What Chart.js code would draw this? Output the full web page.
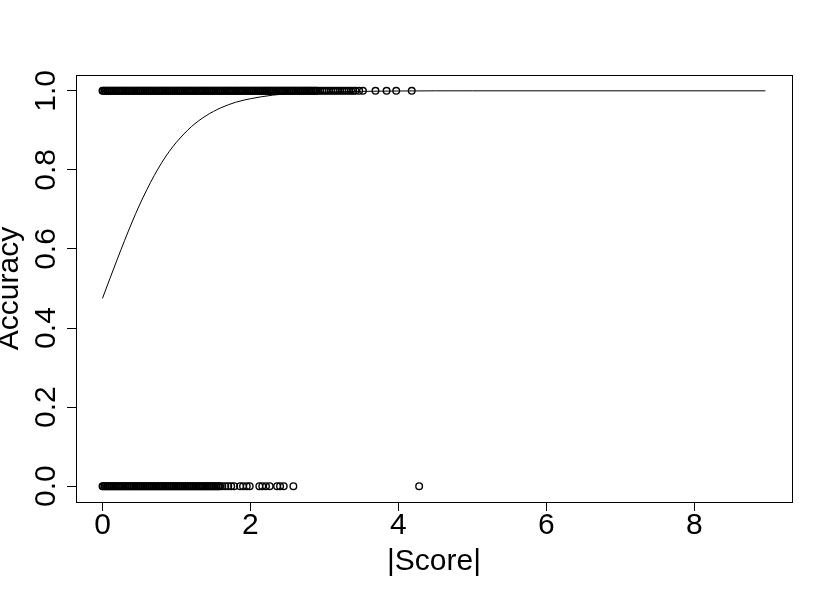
<!DOCTYPE html>
<html>
<head>
<meta charset="utf-8">
<script src="https://cdn.jsdelivr.net/npm/chart.js@4.4.1/dist/chart.umd.min.js"></script>
<style>
  body { margin: 0; background: #fff; }
  #wrap { width: 830px; height: 597px; }
</style>
</head>
<body>
<div id="wrap"><canvas id="grafico" width="830" height="597"></canvas></div>
<script>
// eixos
const xTicks = [0, 2, 4, 6, 8];
const yTicks = [0, 0.2, 0.4, 0.6, 0.8, 1.0];
const xTitulo = '|Score|';
const yTitulo = 'Accuracy';

// observacoes com Accuracy = 1 (|Score|)
const acertosX = [
  0.00, 0.01, 0.03, 0.04, 0.06, 0.07, 0.09, 0.10, 0.12, 0.13, 0.15, 0.16, 0.18, 0.19, 0.21, 0.22,
  0.24, 0.25, 0.27, 0.28, 0.30, 0.31, 0.33, 0.34, 0.36, 0.37, 0.39, 0.40, 0.42, 0.43, 0.45, 0.46,
  0.48, 0.49, 0.51, 0.52, 0.54, 0.55, 0.57, 0.58, 0.60, 0.61, 0.63, 0.64, 0.66, 0.67, 0.69, 0.70,
  0.72, 0.73, 0.75, 0.76, 0.78, 0.79, 0.81, 0.82, 0.84, 0.85, 0.87, 0.88, 0.90, 0.91, 0.93, 0.94,
  0.96, 0.97, 0.99, 1.00, 1.02, 1.03, 1.05, 1.06, 1.08, 1.09, 1.11, 1.12, 1.14, 1.15, 1.17, 1.18,
  1.20, 1.21, 1.23, 1.24, 1.26, 1.27, 1.29, 1.30, 1.32, 1.33, 1.35, 1.36, 1.38, 1.39, 1.41, 1.42,
  1.44, 1.45, 1.47, 1.48, 1.50, 1.51, 1.53, 1.54, 1.56, 1.57, 1.59, 1.60, 1.62, 1.63, 1.65, 1.66,
  1.68, 1.69, 1.71, 1.72, 1.74, 1.75, 1.77, 1.78, 1.80, 1.81, 1.83, 1.84, 1.86, 1.87, 1.89, 1.90,
  1.92, 1.93, 1.95, 1.96, 1.98, 1.99, 2.01, 2.02, 2.04, 2.05, 2.07, 2.08, 2.10, 2.11, 2.13, 2.14,
  2.16, 2.17, 2.19, 2.20, 2.22, 2.23, 2.25, 2.26, 2.28, 2.29, 2.31, 2.32, 2.34, 2.35, 2.37, 2.38,
  2.40, 2.41, 2.43, 2.44, 2.46, 2.47, 2.49, 2.50, 2.52, 2.53, 2.55, 2.56, 2.58, 2.59, 2.61, 2.62,
  2.64, 2.65, 2.67, 2.68, 2.70, 2.71, 2.73, 2.74, 2.76, 2.77, 2.79, 2.80, 2.82, 2.83, 2.85, 2.86,
  2.88, 2.89, 2.91,
  2.94, 2.97, 3.00, 3.03, 3.06, 3.09, 3.12, 3.15, 3.18, 3.21, 3.24, 3.27, 3.30, 3.33, 3.36, 3.39,
  3.42, 3.47, 3.52, 3.69, 3.84, 3.97, 4.18
];

// observacoes com Accuracy = 0
const errosX = [
  0.00, 0.01, 0.03, 0.04, 0.06, 0.07, 0.09, 0.10, 0.12, 0.13, 0.15, 0.16, 0.18, 0.19, 0.21, 0.22,
  0.24, 0.25, 0.27, 0.28, 0.30, 0.31, 0.33, 0.34, 0.36, 0.37, 0.39, 0.40, 0.42, 0.43, 0.45, 0.46,
  0.48, 0.49, 0.51, 0.52, 0.54, 0.55, 0.57, 0.58, 0.60, 0.61, 0.63, 0.64, 0.66, 0.67, 0.69, 0.70,
  0.72, 0.73, 0.75, 0.76, 0.78, 0.79, 0.81, 0.82, 0.84, 0.85, 0.87, 0.88, 0.90, 0.91, 0.93, 0.94,
  0.96, 0.97, 0.99, 1.00, 1.02, 1.03, 1.05, 1.06, 1.08, 1.09, 1.11, 1.12, 1.14, 1.15, 1.17, 1.18,
  1.20, 1.21, 1.23, 1.24, 1.26, 1.27, 1.29, 1.30, 1.32, 1.33, 1.35, 1.36, 1.38, 1.39, 1.41, 1.42,
  1.44, 1.45, 1.47, 1.48, 1.50, 1.51, 1.53, 1.54, 1.56, 1.57, 1.59,
  1.62, 1.66, 1.70, 1.74, 1.78, 1.86, 1.90, 1.95, 1.99, 2.12, 2.16, 2.21, 2.26, 2.36, 2.40, 2.45,
  2.58, 4.28
];

// curva ajustada
const curvaX = [0, 0.1, 0.2, 0.3, 0.4, 0.5, 0.6, 0.7, 0.8, 0.9, 1.0, 1.2, 1.4, 1.6, 1.8, 2.0, 2.3, 2.6, 3.0, 4.0, 5.0, 8.96];
const curvaY = [0.475, 0.525, 0.574, 0.622, 0.668, 0.711, 0.750, 0.786, 0.818, 0.846, 0.870, 0.909, 0.937, 0.957, 0.971, 0.980, 0.989, 0.994, 0.997, 0.9995, 1.0, 1.0];

const fonte = '30px "Liberation Sans", Arial, Helvetica, sans-serif';

const caixaTextos = {
  id: 'caixaTextos',
  afterDraw(chart) {
    const ctx = chart.ctx;
    const a = chart.chartArea;
    const x = chart.scales.x;
    const y = chart.scales.y;
    ctx.save();
    ctx.strokeStyle = '#000';
    ctx.lineWidth = 1;
    ctx.strokeRect(Math.round(a.left) + 0.5, Math.round(a.top) + 0.5, Math.round(a.right - a.left), Math.round(a.bottom - a.top));

    ctx.fillStyle = '#000';
    ctx.font = fonte;
    ctx.textAlign = 'center';
    ctx.textBaseline = 'alphabetic';

    x.ticks.forEach(t => {
      ctx.fillText(String(t.value), x.getPixelForValue(t.value), a.bottom + 32);
    });
    ctx.fillText(xTitulo, (a.left + a.right) / 2, a.bottom + 68);

    y.ticks.forEach(t => {
      ctx.save();
      ctx.translate(a.left - 21, y.getPixelForValue(t.value));
      ctx.rotate(-Math.PI / 2);
      ctx.fillText(t.value.toFixed(1), 0, 0);
      ctx.restore();
    });

    ctx.save();
    ctx.translate(a.left - 58, (a.top + a.bottom) / 2);
    ctx.rotate(-Math.PI / 2);
    ctx.fillText(yTitulo, 0, 0);
    ctx.restore();
    ctx.restore();
  }
};

function graficoAccuracy() {
  const ctx = document.getElementById('grafico').getContext('2d');

  const pontos = {
    pointStyle: 'circle',
    pointRadius: 3.3,
    pointBorderWidth: 1.4,
    pointBorderColor: '#000',
    pointBackgroundColor: 'rgba(0,0,0,0)',
    showLine: false
  };

  const dados = {
    datasets: [
      { label: 'acertos', data: acertosX.map(v => ({ x: v, y: 1 })), ...pontos },
      { label: 'erros', data: errosX.map(v => ({ x: v, y: 0 })), ...pontos },
      {
        label: 'curva',
        data: curvaX.map((v, i) => ({ x: v, y: curvaY[i] })),
        showLine: true,
        pointRadius: 0,
        borderColor: '#000',
        borderWidth: 1,
        cubicInterpolationMode: 'monotone'
      }
    ]
  };

  const config = {
    type: 'scatter',
    data: dados,
    options: {
      responsive: false,
      animation: false,
      layout: { padding: { top: 75, right: 38, left: 0, bottom: 0 } },
      plugins: { legend: { display: false }, tooltip: { enabled: false } },
      scales: {
        x: {
          type: 'linear',
          min: -0.358,
          max: 9.32,
          afterBuildTicks: s => { s.ticks = xTicks.map(v => ({ value: v })); },
          afterFit: s => { s.height = 95; },
          ticks: { display: false },
          grid: { drawOnChartArea: false, drawTicks: true, tickLength: 9, color: '#000', lineWidth: 1 },
          border: { display: true, color: '#000', width: 1 }
        },
        y: {
          type: 'linear',
          min: -0.04,
          max: 1.04,
          afterBuildTicks: s => { s.ticks = yTicks.map(v => ({ value: v })); },
          afterFit: s => { s.width = 76; },
          ticks: { display: false },
          grid: { drawOnChartArea: false, drawTicks: true, tickLength: 9, color: '#000', lineWidth: 1 },
          border: { display: true, color: '#000', width: 1 }
        }
      }
    },
    plugins: [caixaTextos]
  };

  new Chart(ctx, config);
}

window.onload = () => {
  graficoAccuracy();
};
</script>
</body>
</html>
